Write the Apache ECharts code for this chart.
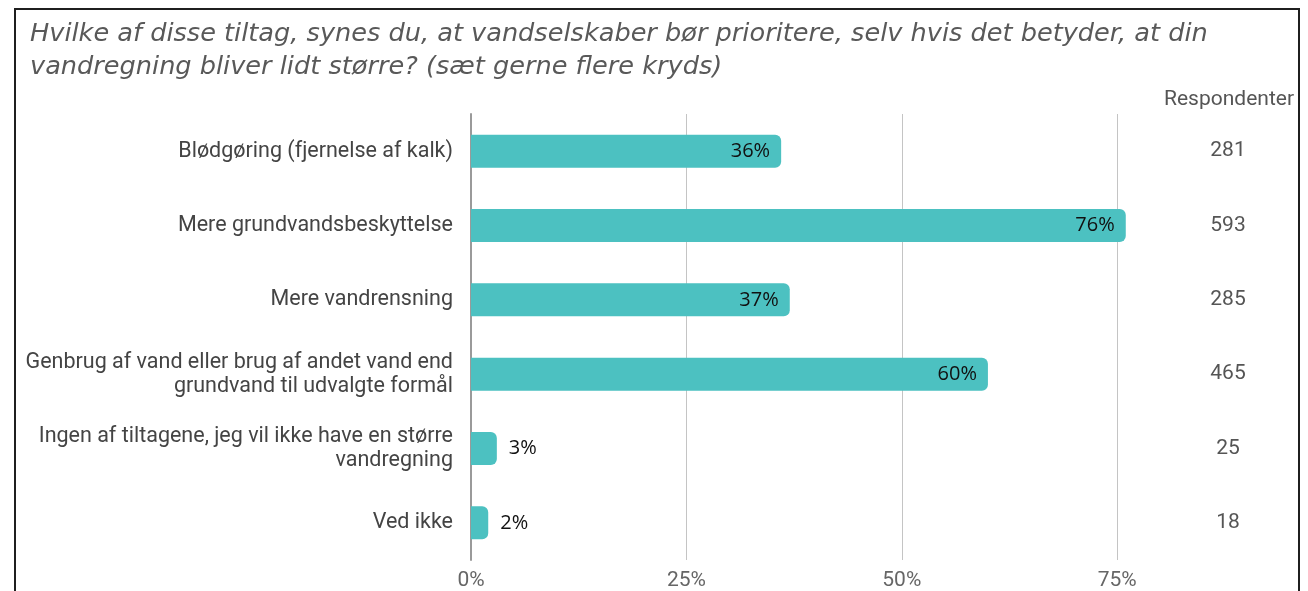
<!DOCTYPE html>
<html>
<head>
<meta charset="utf-8">
<script src="https://cdn.jsdelivr.net/npm/echarts@6/dist/echarts.min.js"></script>
<style>
html,body{margin:0;padding:0;background:#fff;}
#chart{width:1308px;height:591px;}
</style>
</head>
<body>
<div id="chart"></div>
<script>
const titleText = "Hvilke af disse tiltag, synes du, at vandselskaber bør prioritere, selv hvis det betyder, at din\nvandregning bliver lidt større? (sæt gerne flere kryds)";
const categories = [
  "Blødgøring (fjernelse af kalk)",
  "Mere grundvandsbeskyttelse",
  "Mere vandrensning",
  "Genbrug af vand eller brug af andet vand end\ngrundvand til udvalgte formål",
  "Ingen af tiltagene, jeg vil ikke have en større\nvandregning",
  "Ved ikke"
];
const percentValues = [36, 76, 37, 60, 3, 2];
const respondents = [281, 593, 285, 465, 25, 18];
const respondentsHeader = "Respondenter";
const xTicks = [0, 25, 50, 75];

const chart = echarts.init(document.getElementById('chart'), null, {renderer: 'canvas'});
const teal = '#4cc1c1';

const barData = percentValues.map(function (v) {
  const inside = v >= 10;
  return {
    value: v,
    label: inside
      ? {position: 'insideRight', distance: 11}
      : {position: 'right', distance: 12}
  };
});

chart.setOption({
  animation: false,
  backgroundColor: '#ffffff',
  title: {
    text: titleText,
    left: 25,
    top: 13,
    textStyle: {
      fontFamily: 'DejaVu Sans',
      fontStyle: 'italic',
      fontWeight: 'normal',
      fontSize: 25.6,
      lineHeight: 33,
      color: '#595959'
    }
  },
  graphic: [
    {
      type: 'rect',
      shape: {x: 15, y: 9, width: 1284, height: 700},
      style: {fill: 'none', stroke: '#1f1f1f', lineWidth: 2},
      silent: true, z: 100
    },
    {
      type: 'text',
      right: 14, top: 89,
      style: {
        text: respondentsHeader,
        font: '21px Roboto',
        fill: '#555555'
      }
    }
  ],
  grid: {left: 471, right: 165, top: 114, bottom: 31, containLabel: false},
  xAxis: {
    type: 'value',
    min: xTicks[0],
    max: 78,
    interval: 25,
    axisLine: {show: false},
    axisTick: {show: false},
    splitLine: {show: true, showMaxLine: false, lineStyle: {color: '#c4c4c4', width: 1}},
    axisLabel: {
      showMaxLabel: false,
      formatter: function (v) { return xTicks.indexOf(v) >= 0 ? v + '%' : ''; },
      fontFamily: 'Roboto',
      fontSize: 21,
      color: '#666666',
      margin: 10
    }
  },
  yAxis: [
    {
      type: 'category',
      data: categories,
      inverse: true,
      axisLine: {show: true, lineStyle: {color: '#9a9a9a', width: 2}},
      axisTick: {show: false},
      axisLabel: {
        fontFamily: 'Roboto',
        fontSize: 21.5,
        lineHeight: 24,
        color: '#444444',
        margin: 18,
        align: 'right'
      }
    },
    {
      type: 'category',
      data: respondents.map(String),
      inverse: true,
      position: 'right',
      axisLine: {show: false},
      axisTick: {show: false},
      axisLabel: {
        fontFamily: 'Roboto',
        fontSize: 21,
        color: '#555555',
        margin: 85,
        align: 'center'
      }
    }
  ],
  series: [
    {
      type: 'bar',
      yAxisIndex: 0,
      data: barData,
      barWidth: 33,
      itemStyle: {color: teal, borderRadius: [0, 6, 6, 0]},
      label: {
        show: true,
        formatter: '{c}%',
        fontFamily: 'Open Sans',
        fontSize: 20,
        color: '#111111'
      }
    }
  ]
});
</script>
</body>
</html>
